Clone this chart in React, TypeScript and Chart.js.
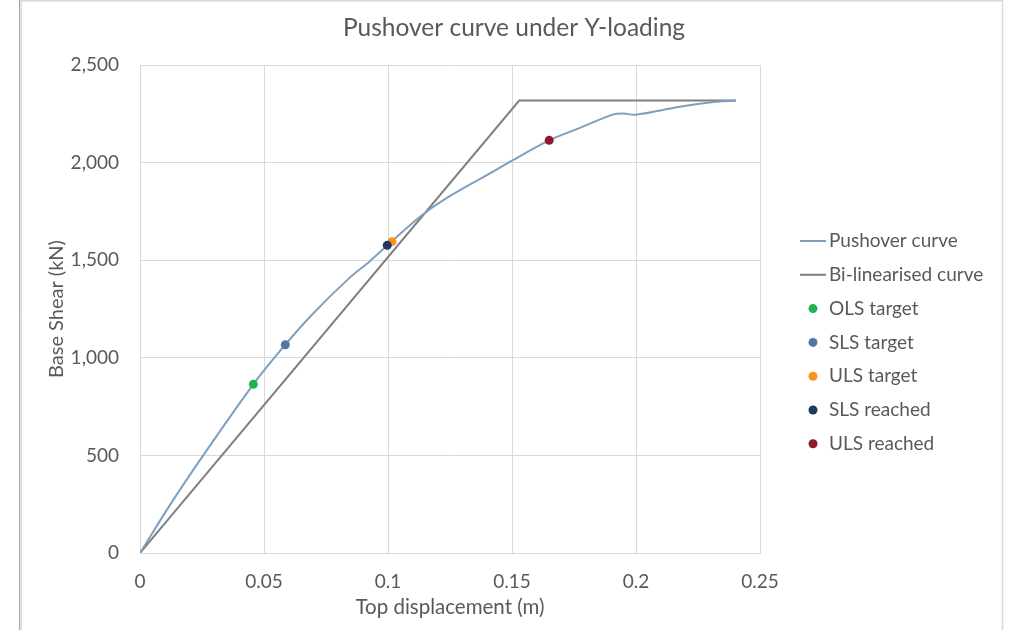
import React, { useEffect, useRef } from "react";
import { Chart, registerables } from "chart.js";

Chart.register(...registerables);

const TITLE = "Pushover curve under Y-loading";
const X_TITLE = "Top displacement (m)";
const Y_TITLE = "Base Shear (kN)";

const pushoverX = [0, 0.0127, 0.0255, 0.0457, 0.0586, 0.0699, 0.0847, 0.0927, 0.0997, 0.1129, 0.1223, 0.1411, 0.15, 0.165, 0.1774, 0.1909, 0.1949, 0.1996, 0.2177, 0.2312, 0.2403];
const pushoverY = [0, 258, 500, 864, 1067, 1228, 1412, 1495, 1576, 1723, 1808, 1945, 2010, 2114, 2178, 2247, 2252, 2245, 2286, 2310, 2318];

const bilinearX = [0, 0.1529, 0.2403];
const bilinearY = [0, 2318, 2318];

const markerLabels = ["OLS target", "SLS target", "ULS target", "SLS reached", "ULS reached"];
const markerX = [0.0457, 0.0586, 0.1016, 0.0997, 0.165];
const markerY = [864, 1067, 1595, 1576, 2114];
const markerColors = ["#22b24c", "#4f79a4", "#f7941d", "#1f3864", "#8b1a2f"];
const markerOrder = [4, 3, 2, 0, 1];

const xTicks = [0, 0.05, 0.1, 0.15, 0.2, 0.25];
const yTicks = [0, 500, 1000, 1500, 2000, 2500];

const FONT = "Lato";
const TEXT = "#595959";
const GRID = "#d9d9d9";
const PUSH_COLOR = "#7f9fbd";
const BI_COLOR = "#7f7f7f";

const decorPlugin = {
  id: "decor",
  beforeDraw(chart: any) {
    const ctx = chart.ctx;
    ctx.save();
    ctx.fillStyle = "#ffffff";
    ctx.fillRect(0, 0, chart.width, chart.height);
    ctx.strokeStyle = "#d9d9d9";
    ctx.lineWidth = 1.5;
    ctx.beginPath();
    ctx.moveTo(21, 640);
    ctx.lineTo(21, 0.75);
    ctx.lineTo(1002.5, 0.75);
    ctx.lineTo(1002.5, 640);
    ctx.stroke();
    ctx.strokeStyle = "#a6a6a6";
    ctx.lineWidth = 1;
    ctx.beginPath();
    ctx.moveTo(19.5, 0);
    ctx.lineTo(19.5, 640);
    ctx.stroke();
    ctx.restore();
  },
  afterDraw(chart: any) {
    const ctx = chart.ctx;
    const area = chart.chartArea;
    ctx.save();
    ctx.fillStyle = TEXT;
    ctx.font = `24.5px ${FONT}`;
    ctx.textAlign = "center";
    ctx.textBaseline = "middle";
    ctx.fillText(TITLE, 514, 28);

    const lx = area.right + 40;
    const ty = area.top + 176;
    const step = 33.8;
    ctx.font = `19px ${FONT}`;
    ctx.textAlign = "left";
    chart.data.datasets.forEach((ds: any, i: number) => {
      const y = ty + i * step;
      if (ds.showLine) {
        ctx.strokeStyle = ds.borderColor;
        ctx.lineWidth = 2;
        ctx.beginPath();
        ctx.moveTo(lx, y);
        ctx.lineTo(lx + 26, y);
        ctx.stroke();
      } else {
        ctx.fillStyle = ds.backgroundColor;
        ctx.beginPath();
        ctx.arc(lx + 13, y, 4.5, 0, Math.PI * 2);
        ctx.fill();
      }
      ctx.fillStyle = TEXT;
      ctx.fillText(ds.label, lx + 29, y);
    });
    ctx.restore();
  },
};

export default function App() {
  const ref = useRef<HTMLCanvasElement | null>(null);
  useEffect(() => {
    if (!ref.current) return;
    const datasets: any[] = [
      {
        label: "Pushover curve",
        data: pushoverX.map((x, i) => ({ x, y: pushoverY[i] })),
        showLine: true,
        borderColor: PUSH_COLOR,
        backgroundColor: PUSH_COLOR,
        borderWidth: 2,
        pointRadius: 0,
        tension: 0.35,
        order: 5,
      },
      {
        label: "Bi-linearised curve",
        data: bilinearX.map((x, i) => ({ x, y: bilinearY[i] })),
        showLine: true,
        borderColor: BI_COLOR,
        backgroundColor: BI_COLOR,
        borderWidth: 2,
        pointRadius: 0,
        tension: 0,
        order: 6,
      },
      ...markerLabels.map((label, i) => ({
        label,
        data: [{ x: markerX[i], y: markerY[i] }],
        showLine: false,
        backgroundColor: markerColors[i],
        borderColor: markerColors[i],
        borderWidth: 0,
        pointRadius: 4.5,
        order: markerOrder[i],
      })),
    ];
    const chart = new Chart(ref.current, {
      type: "scatter",
      data: { datasets },
      plugins: [decorPlugin],
      options: {
        responsive: false,
        animation: false,
        events: [],
        layout: { padding: { left: 0, right: 260, top: 65, bottom: 0 } },
        plugins: { legend: { display: false }, tooltip: { enabled: false }, title: { display: false } },
        scales: {
          x: {
            type: "linear",
            min: 0,
            max: 0.25,
            afterBuildTicks: (scale: any) => {
              scale.ticks = xTicks.map((v) => ({ value: v }));
            },
            afterFit: (scale: any) => {
              scale.height = 77;
            },
            grid: { color: GRID, lineWidth: 1, drawTicks: false },
            border: { display: true, color: GRID },
            ticks: {
              color: TEXT,
              font: { family: FONT, size: 19 },
              padding: 17,
              maxRotation: 0,
              callback: (v: any) => String(Number(Number(v).toFixed(3))),
            },
            title: {
              display: true,
              text: X_TITLE,
              color: TEXT,
              font: { family: FONT, size: 20.5 },
              padding: { top: 0, bottom: 10 },
            },
          },
          y: {
            type: "linear",
            min: 0,
            max: 2500,
            afterBuildTicks: (scale: any) => {
              scale.ticks = yTicks.map((v) => ({ value: v }));
            },
            afterFit: (scale: any) => {
              scale.width = 140;
            },
            grid: { color: GRID, lineWidth: 1, drawTicks: false },
            border: { display: true, color: GRID },
            ticks: {
              color: TEXT,
              font: { family: FONT, size: 19 },
              padding: 21,
              callback: (v: any) => Number(v).toLocaleString("en-US"),
            },
            title: {
              display: true,
              text: Y_TITLE,
              color: TEXT,
              font: { family: FONT, size: 20 },
              padding: { top: 45, bottom: 0 },
            },
          },
        },
      },
    } as any);
    return () => chart.destroy();
  }, []);
  return (
    <div style={{ position: "fixed", left: 0, top: 0, width: 1020, height: 630, background: "#fff" }}>
      <canvas ref={ref} width={1020} height={630} style={{ display: "block" }} />
    </div>
  );
}
